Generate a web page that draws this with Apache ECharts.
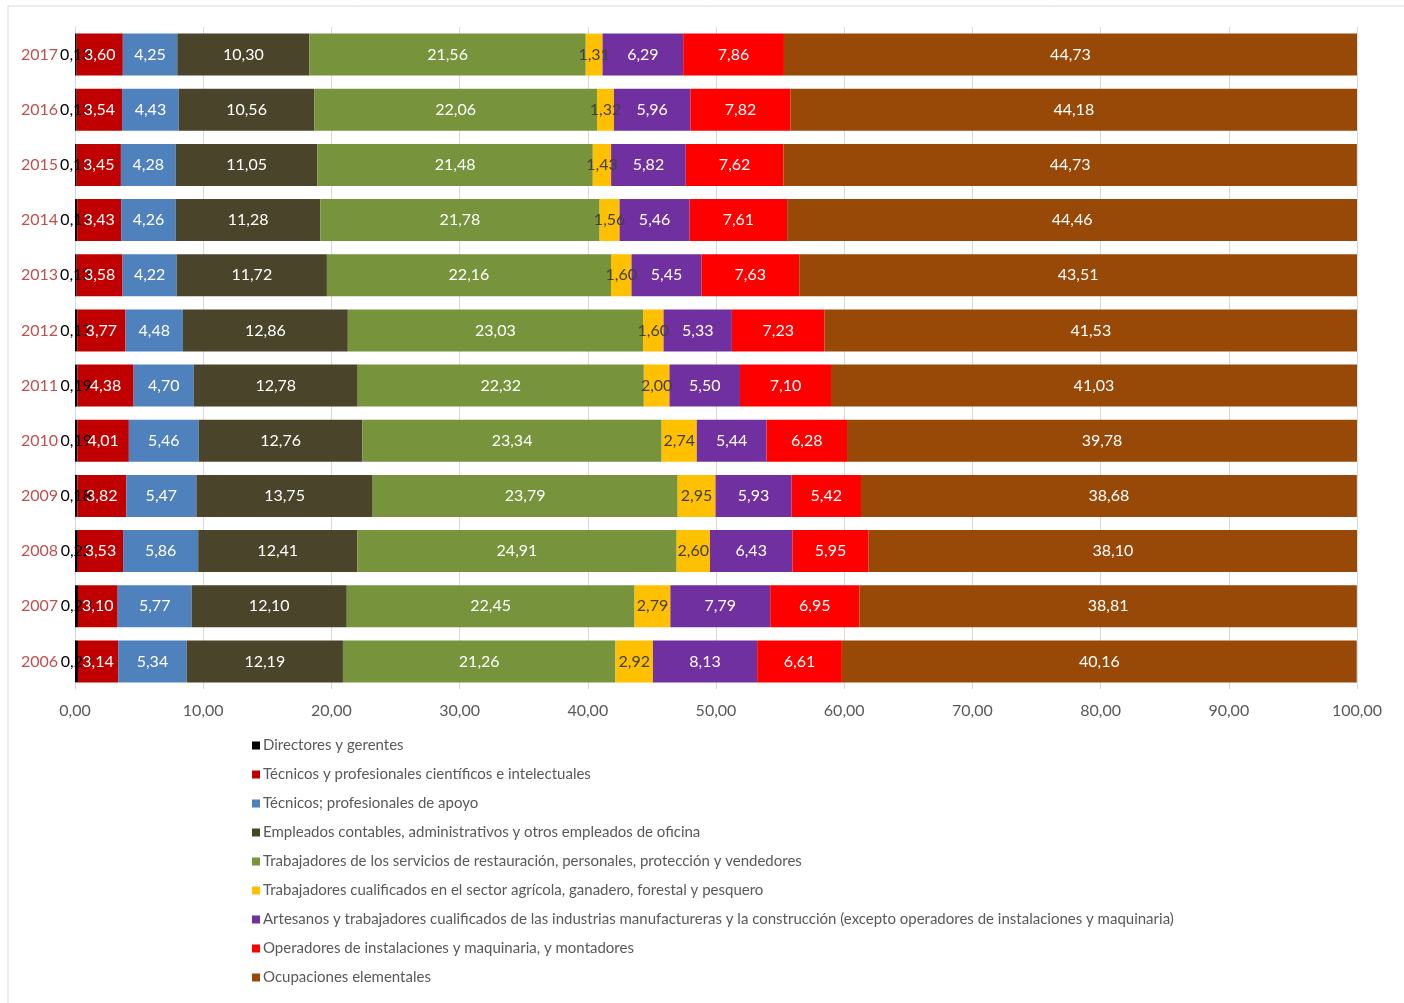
<!DOCTYPE html>
<html>
<head>
<meta charset="utf-8">
<style>
  html, body { margin: 0; padding: 0; background: #fff; }
  #main { width: 1404px; height: 1003px; }
</style>
<script src="https://cdn.jsdelivr.net/npm/echarts@6/dist/echarts.min.js"></script>
</head>
<body>
<div id="main"></div>
<script>
var years = ['2006', '2007', '2008', '2009', '2010', '2011', '2012', '2013', '2014', '2015', '2016', '2017'];

var seriesNames = [
    'Directores y gerentes',
    'Técnicos y profesionales científicos e intelectuales',
    'Técnicos; profesionales de apoyo',
    'Empleados contables, administrativos y otros empleados de oficina',
    'Trabajadores de los servicios de restauración, personales, protección y vendedores',
    'Trabajadores cualificados en el sector agrícola, ganadero, forestal y pesquero',
    'Artesanos y trabajadores cualificados de las industrias manufactureras y la construcción (excepto operadores de instalaciones y maquinaria)',
    'Operadores de instalaciones y maquinaria, y montadores',
    'Ocupaciones elementales'
];

var directores  = [0.23, 0.23, 0.22, 0.18, 0.19, 0.19, 0.17, 0.13, 0.17, 0.13, 0.13, 0.13];
var tecnicosProf = [3.14, 3.10, 3.53, 3.82, 4.01, 4.38, 3.77, 3.58, 3.43, 3.45, 3.54, 3.60];
var tecnicosApoyo = [5.34, 5.77, 5.86, 5.47, 5.46, 4.70, 4.48, 4.22, 4.26, 4.28, 4.43, 4.25];
var empleados   = [12.19, 12.10, 12.41, 13.75, 12.76, 12.78, 12.86, 11.72, 11.28, 11.05, 10.56, 10.30];
var servicios   = [21.26, 22.45, 24.91, 23.79, 23.34, 22.32, 23.03, 22.16, 21.78, 21.48, 22.06, 21.56];
var agricola    = [2.92, 2.79, 2.60, 2.95, 2.74, 2.00, 1.60, 1.60, 1.56, 1.43, 1.32, 1.31];
var artesanos   = [8.13, 7.79, 6.43, 5.93, 5.44, 5.50, 5.33, 5.45, 5.46, 5.82, 5.96, 6.29];
var operadores  = [6.61, 6.95, 5.95, 5.42, 6.28, 7.10, 7.23, 7.63, 7.61, 7.62, 7.82, 7.86];
var elementales = [40.16, 38.81, 38.10, 38.68, 39.78, 41.03, 41.53, 43.51, 44.46, 44.73, 44.18, 44.73];

var xTicks = [0, 10, 20, 30, 40, 50, 60, 70, 80, 90, 100];

var allData = [directores, tecnicosProf, tecnicosApoyo, empleados, servicios, agricola, artesanos, operadores, elementales];
var colors = ['#000000', '#c00000', '#4f81bd', '#4a442a', '#77933c', '#ffc000', '#7030a0', '#ff0000', '#984807'];
var labelColors = ['#000000', '#ffffff', '#ffffff', '#ffffff', '#ffffff', '#404040', '#ffffff', '#ffffff', '#ffffff'];

var fontName = 'Lato, "Open Sans", sans-serif';

function fmt(v) {
    return v.toFixed(2).replace('.', ',');
}

var dom = document.getElementById('main');
var myChart = echarts.init(dom);

var series = [];
for (var i = 0; i < allData.length; i++) {
    series.push({
        name: seriesNames[i],
        type: 'bar',
        stack: 'total',
        barCategoryGap: '24%',
        itemStyle: { color: colors[i] },
        label: {
            show: true,
            position: 'inside',
            color: labelColors[i],
            fontFamily: fontName,
            fontSize: 16,
            formatter: function (p) { return fmt(p.value); }
        },
        data: allData[i]
    });
}

var option = {
    backgroundColor: '#ffffff',
    animation: false,
    graphic: [{
        type: 'rect',
        shape: { x: 8, y: 6, width: 1500, height: 1100 },
        style: { fill: 'none', stroke: '#d9d9d9', lineWidth: 1 },
        silent: true
    }],
    grid: {
        left: 75,
        right: 47,
        top: 27,
        bottom: 314
    },
    xAxis: {
        type: 'value',
        min: 0,
        max: 100,
        interval: 10,
        axisLine: { show: false },
        axisTick: { show: false },
        splitLine: { show: true, lineStyle: { color: '#d9d9d9', width: 1 } },
        axisLabel: {
            margin: 14,
            color: '#595959',
            fontFamily: fontName,
            fontSize: 16,
            formatter: function (v) { return xTicks.indexOf(v) >= 0 ? fmt(v) : ''; }
        }
    },
    yAxis: {
        type: 'category',
        data: years,
        axisLine: { show: true, lineStyle: { color: '#d9d9d9' } },
        axisTick: { show: false },
        axisLabel: {
            margin: 17,
            color: '#c0504d',
            fontFamily: fontName,
            fontSize: 16
        }
    },
    legend: {
        orient: 'vertical',
        left: 247,
        top: 732,
        icon: 'rect',
        itemWidth: 8,
        itemHeight: 8,
        itemGap: 12,
        textStyle: {
            color: '#595959',
            fontFamily: fontName,
            fontSize: 15,
            lineHeight: 17,
            padding: [0, 0, 0, -2]
        },
        data: seriesNames
    },
    series: series
};

myChart.setOption(option, true);

window.addEventListener('resize', function () {
    myChart.resize();
});
</script>
</body>
</html>
